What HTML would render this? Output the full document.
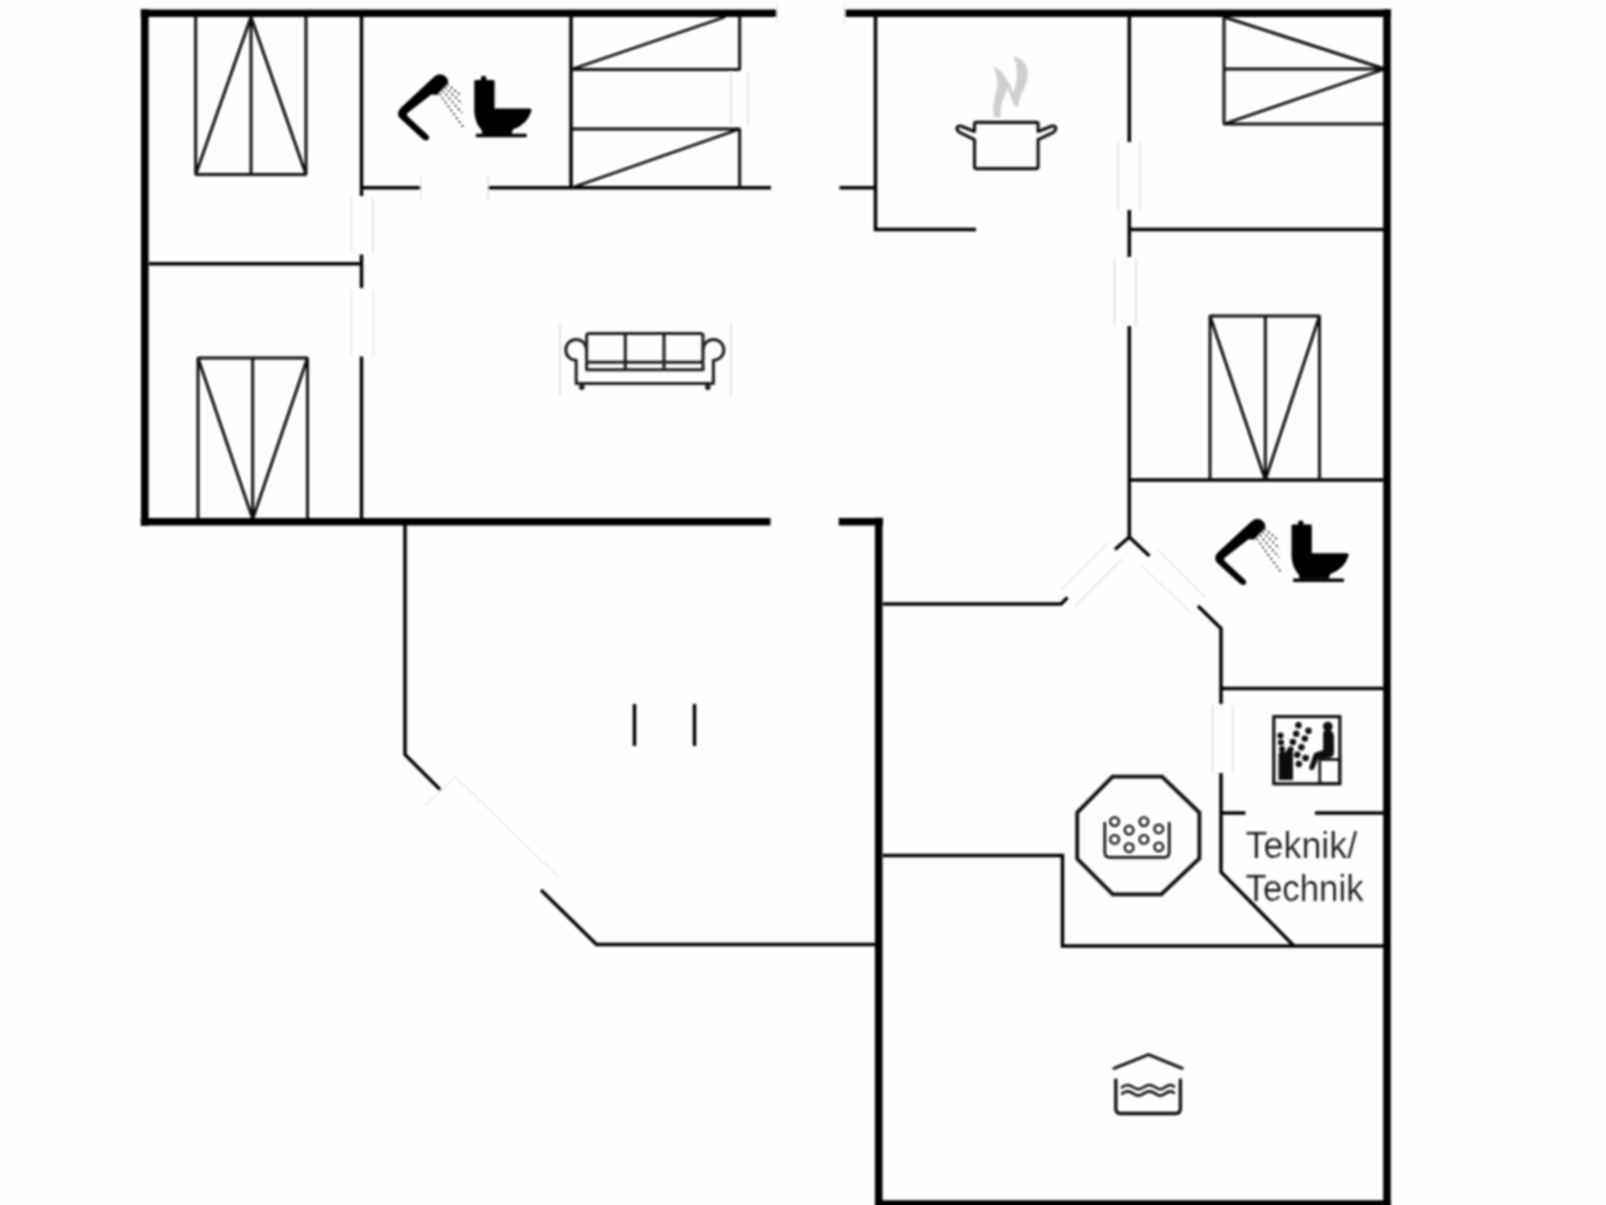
<!DOCTYPE html>
<html><head><meta charset="utf-8">
<style>
html,body{margin:0;padding:0;background:#fefefe;}
body{width:1606px;height:1205px;overflow:hidden;font-family:"Liberation Sans",sans-serif;}
svg{display:block;position:absolute;left:0;top:0;}
.W{stroke:#040404;stroke-width:7.6;fill:none;stroke-linecap:butt;stroke-linejoin:miter}
.w{stroke:#060606;stroke-width:3.5;fill:none;stroke-linecap:butt;stroke-linejoin:miter}
.t{stroke:#080808;stroke-width:2.9;fill:none;stroke-linecap:butt;stroke-linejoin:bevel}
.d{stroke:#cfcfcf;stroke-width:1.1;fill:none}
.d2{stroke:#e0e0e0;stroke-width:1.1;fill:none}
</style></head><body>
<svg width="1606" height="1205" viewBox="0 0 1606 1205">
<rect width="1606" height="1205" fill="#fefefe"/>
<g id="all" filter="url(#soft)">
<defs><filter id="soft" x="-10" y="-10" width="1626" height="1235" filterUnits="userSpaceOnUse"><feGaussianBlur stdDeviation="0.8"/></filter></defs>

<!-- ===== faint doors ===== -->
<g id="doors">
<path class="d2" d="M351.5 197V253M351.5 290V356"/>
<path class="d" d="M372.8 197V253"/><path class="d2" d="M373.5 290V356"/>
<path class="d" d="M731 72V125M748 72V125"/>
<path class="d" d="M1118 142V210M1140 142V210"/>
<path class="d" d="M1114.5 259V326M1136 259V326"/>
<path class="d" d="M1212.5 705V773M1233 705V773"/>
<path class="d" d="M560 323V396M731 323V396"/>
<path class="d2" d="M424.6 806L455.7 777L558 876.6"/>
<path class="d2" d="M420.8 176V200M488 176V200M776.8 2V24M844.6 2V24"/>
<path class="d2" d="M1061 590L1108 543M1075 606L1122 559"/>
<path class="d2" d="M1141 565L1190 612M1157 549L1206 598"/>
</g>

<!-- ===== thin interior walls ===== -->
<g id="inner">
<path class="w" d="M361.5 17V196M361.5 254.5V288M361.5 356.5V519"/>
<path class="w" d="M361.5 187.7H420.5M488 187.7H771M839.5 187.7H876"/>
<path class="w" d="M149 263.7H361.5"/>
<path class="w" d="M571 17V188"/>
<path class="w" d="M875.5 17V229.5H976"/>
<path class="w" d="M1129.3 17V142M1129.3 210V257M1129.3 326V537"/>
<path class="w" d="M1129.3 229.5H1385M1129.3 480H1385"/>
<path class="w" d="M405 525V754.5L440.5 790M541 890L596.5 944.5H877"/>
<path class="w" d="M634.5 704V746M694.5 704V746"/>
<path class="w" d="M883 604H1061L1067.5 597.5"/>
<path class="w" d="M1115 549.5L1129.3 537L1149.5 556"/>
<path class="w" d="M1198 606L1221 628.5V704M1221 773V872L1294 946"/>
<path class="w" d="M1221 688.5H1385M1221 813H1245.5M1315 813H1385"/>
<path class="w" d="M883 855.5H1062.5V946H1385"/>
</g>

<!-- ===== beds ===== -->
<g id="beds" stroke-linejoin="bevel">
<path class="t" d="M195.7 17V174.5H306V17M251 17V174.5M195.7 174.5L251 17L306 174.5"/>
<path class="t" d="M198 519V358H307.5V519M252.7 358V519M198 358L252.7 519L307.5 358"/>
<path class="t" d="M1210 480V316H1319.5V480M1265.3 316V480M1210 316L1265.3 480L1319.5 316"/>
<path class="t" d="M571 69.5H739.7V17M571 69.5L725 17"/>
<path class="t" d="M571 129H739.7V188M571 188L739.7 129"/>
<path class="t" d="M1224 17V124H1385M1224 69H1385M1224 17L1385 69L1224 124"/>
</g>

<!-- ===== thick walls ===== -->
<g id="outer">
<path class="W" d="M140.7 13.2H776.5M845 13.2H1391"/>
<path class="W" d="M144.8 9.3V525.7"/>
<path class="W" d="M140.7 521.7H770.5M838.7 521.7H883"/>
<path class="W" d="M878.7 517.7V1216"/>
<path class="W" d="M1387 9.3V1216"/>
<path d="M875.1 1200.3H1390.8V1216H875.1Z" fill="#040404"/>
</g>

<!-- ===== shower + toilet symbol ===== -->
<g id="bath1">
<path d="M422.6 139L400.4 118.6Q397 115.2 398.4 111.5Q399.3 109 401.4 107.2L433.6 77.3Q436.5 74.4 440 74.2Q443.6 74.3 446 77Q449.3 80.5 447.6 83.5L437 94.9L431.4 94.6L408.2 112.6Q406 114.3 407.6 116.3L428.3 135.6Q430 137.6 428.3 139.6Q425.8 141.6 422.6 139Z" fill="#050505"/>
<g stroke="#111" stroke-width="1.6" stroke-dasharray="1.9 2.9" fill="none">
<path d="M447 84L461.5 96"/><path d="M445 87L462.3 104"/><path d="M442.5 90.5L462 113"/><path d="M439.5 94L463.6 127.5"/>
</g>
<path d="M480.9 81V78Q480.9 75.8 483.6 75.8Q486.3 75.8 486.3 78V81Z" fill="#050505"/>
<path d="M474.3 81.4Q474.3 80 475.8 80H493.2Q494.6 80 494.6 81.4V108.6H529.6Q532 108.6 531.4 111Q527.5 124.5 512.8 129.6L511.6 134.2H482.2L481.8 130.5Q474.3 122 474.3 111Z" fill="#050505"/>
<rect x="475.8" y="133.8" width="51" height="3.5" rx="1" fill="#050505"/>
</g>
<use href="#bath1" transform="translate(817.2 444.6)"/>

<!-- ===== pot ===== -->
<g id="pot">
<g fill="#cfcfcf">
<path d="M993 66.5Q1001.5 69.5 1006 78Q1009.5 86 1005 95Q999.5 106 1001 117.5L994 117.5Q991.5 106 996 93Q1000 80 993 66.5Z"/>
<path d="M1012.5 56Q1022.5 58 1026.5 66Q1030 76 1024.5 88Q1018 99 1018.5 108L1014.5 105Q1011.5 97 1015.5 85Q1020 68 1012.5 56Z"/>
<path d="M1004.5 80L1009 82L1017.5 104L1013.5 104Z"/>
</g>
<path d="M974.5 131.5V123.9Q974.5 122.4 976 122.4H1036.6Q1038.1 122.4 1038.1 123.9V131.5L1051.3 126.3Q1055 125.2 1055.8 128Q1056.2 130.5 1053.3 132.3L1038.1 139.6V167.1Q1038.1 168.6 1036.6 168.6H976Q974.5 168.6 974.5 167.1V139.6L959.5 132.3Q956.6 130.5 957 128Q957.8 125.2 961.5 126.3Z" fill="none" stroke="#101010" stroke-width="3.1" stroke-linejoin="round"/>
</g>

<!-- ===== sofa ===== -->
<g id="sofa" fill="none" stroke="#1c1c1c" stroke-width="3" stroke-linejoin="round">
<rect x="586.6" y="333.6" width="116.4" height="28.6" rx="2.5"/>
<path d="M625.3 333.6V369.8M664 333.6V369.8"/>
<path d="M586.6 362.2V369.8H703V362.2"/>
<path d="M586.6 349.9A10.4 10.4 0 1 0 576.2 360.3V383.6H713.4V360.3A10.4 10.4 0 1 0 703 349.9"/>
<circle cx="581.8" cy="387.2" r="1.3"/><circle cx="707.8" cy="387.2" r="1.3"/>
</g>

<!-- ===== hot tub ===== -->
<g id="hottub" fill="none" stroke="#0c0c0c">
<path d="M1112.5 776.7H1162L1199.4 812.6V858.4L1161.3 894.3H1112.8L1077.2 858.8V812.6Z" stroke-width="3.8" stroke-linejoin="miter"/>
<path d="M1104.8 822V852.5Q1104.8 857.4 1109.7 857.4H1164.3Q1169.2 857.4 1169.2 852.5V822" stroke-width="2.6"/>
<g stroke-width="2.3">
<circle cx="1114.6" cy="821.6" r="4.3"/><circle cx="1143.9" cy="821.6" r="4.3"/>
<circle cx="1129.1" cy="830.1" r="4.3"/><circle cx="1158.8" cy="828.9" r="4.3"/>
<circle cx="1114.6" cy="839.4" r="4.3"/><circle cx="1143.9" cy="839.4" r="4.3"/>
<circle cx="1129.1" cy="847.7" r="4.3"/><circle cx="1158.8" cy="846.9" r="4.3"/>
</g>
</g>

<!-- ===== sauna ===== -->
<g id="sauna">
<rect x="1273.8" y="716.6" width="66.1" height="67.2" fill="none" stroke="#080808" stroke-width="3.1"/>
<rect x="1319.8" y="759.5" width="20" height="24" fill="none" stroke="#080808" stroke-width="2.6"/>
<rect x="1278.6" y="753" width="14.4" height="27" fill="#080808"/>
<path d="M1279.2 754L1281.5 746.5L1285 752.5L1290 746L1293 754Z" fill="#080808"/>
<g fill="#080808">
<circle cx="1280.5" cy="735.6" r="3.1"/><circle cx="1281" cy="742.5" r="3"/><circle cx="1282" cy="749" r="3"/>
<circle cx="1298.5" cy="725.2" r="3.2"/><circle cx="1308.5" cy="730.8" r="3.2"/>
<circle cx="1296.2" cy="733.8" r="3.2"/><circle cx="1304.8" cy="738.6" r="3.2"/>
<circle cx="1292.9" cy="742" r="3.2"/><circle cx="1301.4" cy="747.2" r="3.2"/>
<circle cx="1290.6" cy="749.5" r="3"/><circle cx="1297.3" cy="754.7" r="3.2"/>
<circle cx="1305.6" cy="758" r="3.2"/><circle cx="1298.8" cy="764" r="3.2"/>
<circle cx="1327.8" cy="726.5" r="4.8"/>
<path d="M1323.2 733Q1323.5 730 1327.8 730Q1333.5 730 1333.8 736L1334 752Q1334 756.5 1330.5 757.5L1318 759.2L1314.5 768Q1313 771 1310.5 770Q1308.5 769 1309.6 766.5L1313.6 754.5Q1314.3 752.8 1316.5 752.3L1323.2 750Z"/>
</g>
</g>

<!-- ===== pool ===== -->
<g id="pool" fill="none" stroke="#0c0c0c" stroke-linecap="round" stroke-linejoin="miter">
<path d="M1114 1068.3L1148.6 1054.7L1182.2 1068.3" stroke-width="3"/>
<path d="M1115.8 1080V1108.4Q1115.8 1113.5 1120.9 1113.5H1175.3Q1180.4 1113.5 1180.4 1108.4V1080" stroke-width="3.3"/>
<path d="M1122 1087.3Q1125 1085 1127.6 1085Q1130 1085 1133 1087Q1136 1089.2 1138.4 1089.2Q1141 1089.2 1144 1087Q1147 1085 1149.4 1085Q1152 1085 1155 1087Q1158 1089.2 1160 1089.2Q1162.6 1089.2 1165.5 1087Q1168.2 1085 1170.5 1085Q1172.5 1085 1174 1086.5" stroke-width="2.6"/>
<path d="M1122 1093.7Q1125 1091.4 1127.6 1091.4Q1130 1091.4 1133 1093.4Q1136 1095.6 1138.4 1095.6Q1141 1095.6 1144 1093.4Q1147 1091.4 1149.4 1091.4Q1152 1091.4 1155 1093.4Q1158 1095.6 1160 1095.6Q1162.6 1095.6 1165.5 1093.4Q1168.2 1091.4 1170.5 1091.4Q1172.5 1091.4 1174 1092.9" stroke-width="2.6"/>
</g>

<!-- ===== text ===== -->
<g id="txt" font-family="'Liberation Sans',sans-serif" font-size="37.3" fill="#0a0a0a" stroke="#fefefe" stroke-width="0.15">
<text x="1245.6" y="858" textLength="111.6" lengthAdjust="spacingAndGlyphs">Teknik/</text>
<text x="1245.6" y="900.6" textLength="118" lengthAdjust="spacingAndGlyphs">Technik</text>
</g>

</g>
</svg>
</body></html>
